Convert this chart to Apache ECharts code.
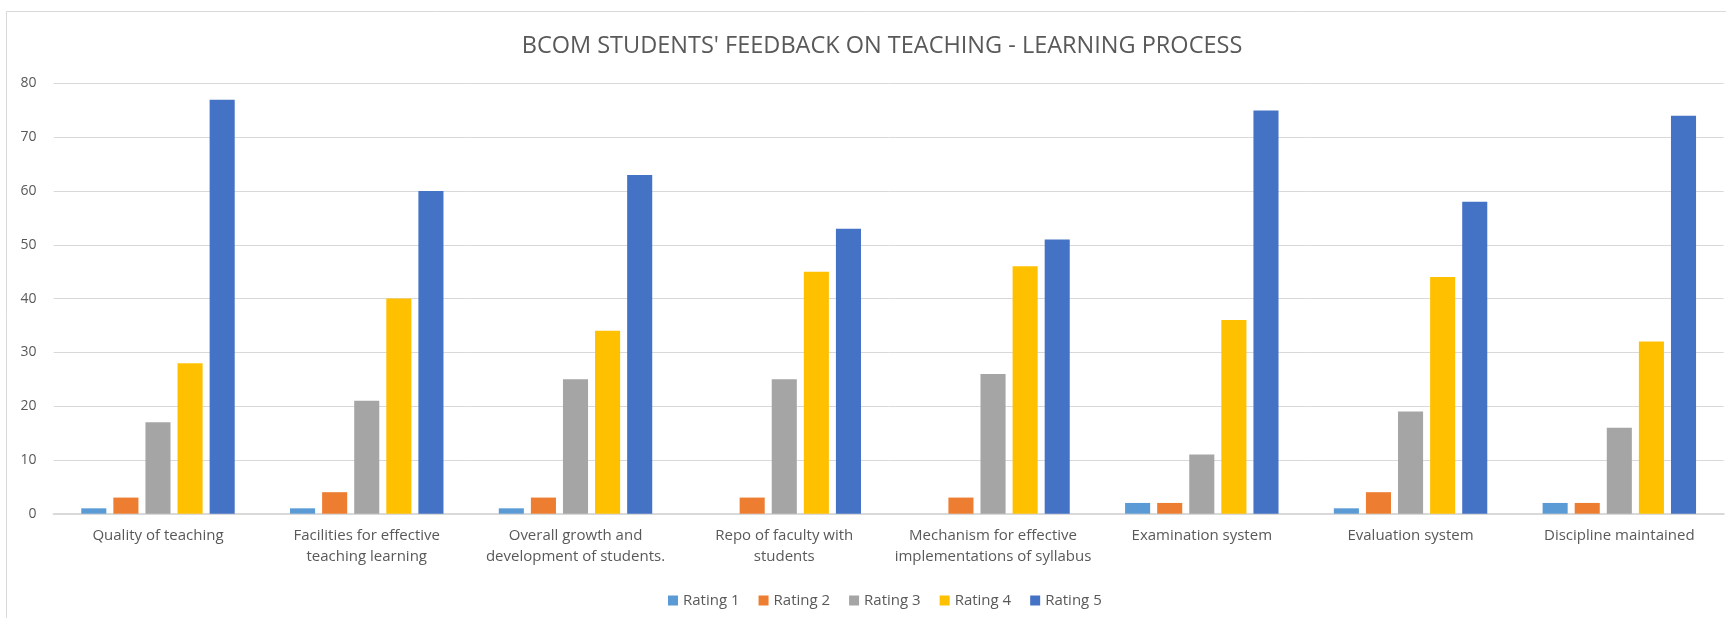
<!DOCTYPE html>
<html>
<head>
<meta charset="utf-8">
<title>BCOM Students' Feedback</title>
<script src="https://cdn.jsdelivr.net/npm/echarts@6/dist/echarts.min.js"></script>
<style>
    html, body { margin: 0; padding: 0; background: #fff; }
    #chart { width: 1726px; height: 618px; }
</style>
</head>
<body>
<div id="chart"></div>
<script>
    // categories on the x axis
    var categories = [
        'Quality of teaching',
        'Facilities for effective\nteaching learning',
        'Overall growth and\ndevelopment of students.',
        'Repo of faculty with\nstudents',
        'Mechanism for effective\nimplementations of syllabus',
        'Examination system',
        'Evaluation system',
        'Discipline maintained'
    ];
    var seriesNames = ['Rating 1', 'Rating 2', 'Rating 3', 'Rating 4', 'Rating 5'];
    var rating1 = [1, 1, 1, 0, 0, 2, 1, 2];
    var rating2 = [3, 4, 3, 3, 3, 2, 4, 2];
    var rating3 = [17, 21, 25, 25, 26, 11, 19, 16];
    var rating4 = [28, 40, 34, 45, 46, 36, 44, 32];
    var rating5 = [77, 60, 63, 53, 51, 75, 58, 74];
    var colors = ['#5b9bd5', '#ed7d31', '#a5a5a5', '#ffc000', '#4472c4'];

    var font = "'Open Sans', 'Noto Sans', sans-serif";
    var allData = [rating1, rating2, rating3, rating4, rating5];

    var chart = echarts.init(document.getElementById('chart'));

    var series = [];
    for (var i = 0; i < seriesNames.length; i++) {
        series.push({
            name: seriesNames[i],
            type: 'bar',
            data: allData[i],
            barGap: '28%',
            barCategoryGap: '26.5%',
            itemStyle: { color: colors[i] }
        });
    }

    var option = {
        backgroundColor: '#fff',
        animation: false,
        color: colors,
        title: {
            text: "BCOM STUDENTS' FEEDBACK ON TEACHING - LEARNING PROCESS",
            left: 877,
            textAlign: 'center',
            top: 29,
            textStyle: {
                fontFamily: font,
                fontSize: 23.5,
                fontWeight: 'normal',
                color: '#595959'
            }
        },
        // light frame round the chart area, like the original
        graphic: [{
            type: 'rect',
            shape: { x: 6.5, y: 11.5, width: 1800, height: 700 },
            style: { fill: 'none', stroke: '#d9d9d9', lineWidth: 1 },
            silent: true
        }],
        legend: {
            data: seriesNames,
            left: 663,
            top: 588,
            itemWidth: 10,
            itemHeight: 10,
            itemGap: 19,
            icon: 'rect',
            textStyle: { fontFamily: font, fontSize: 15, color: '#595959' }
        },
        grid: {
            left: 53.6,
            right: 2.3,
            top: 83.5,
            bottom: 104.3,
            containLabel: false
        },
        xAxis: {
            type: 'category',
            data: categories,
            axisTick: { show: false },
            axisLine: { lineStyle: { color: '#d9d9d9', width: 2 } },
            axisLabel: {
                interval: 0,
                margin: 12,
                fontFamily: font,
                fontSize: 15,
                lineHeight: 21,
                color: '#595959'
            }
        },
        yAxis: {
            type: 'value',
            min: 0,
            max: 80,
            interval: 10,
            axisLine: { show: false },
            axisTick: { show: false },
            splitLine: { lineStyle: { color: '#d9d9d9', width: 1 } },
            axisLabel: {
                margin: 17,
                fontFamily: font,
                fontSize: 14,
                color: '#595959'
            }
        },
        series: series
    };

    chart.setOption(option);
</script>
</body>
</html>
